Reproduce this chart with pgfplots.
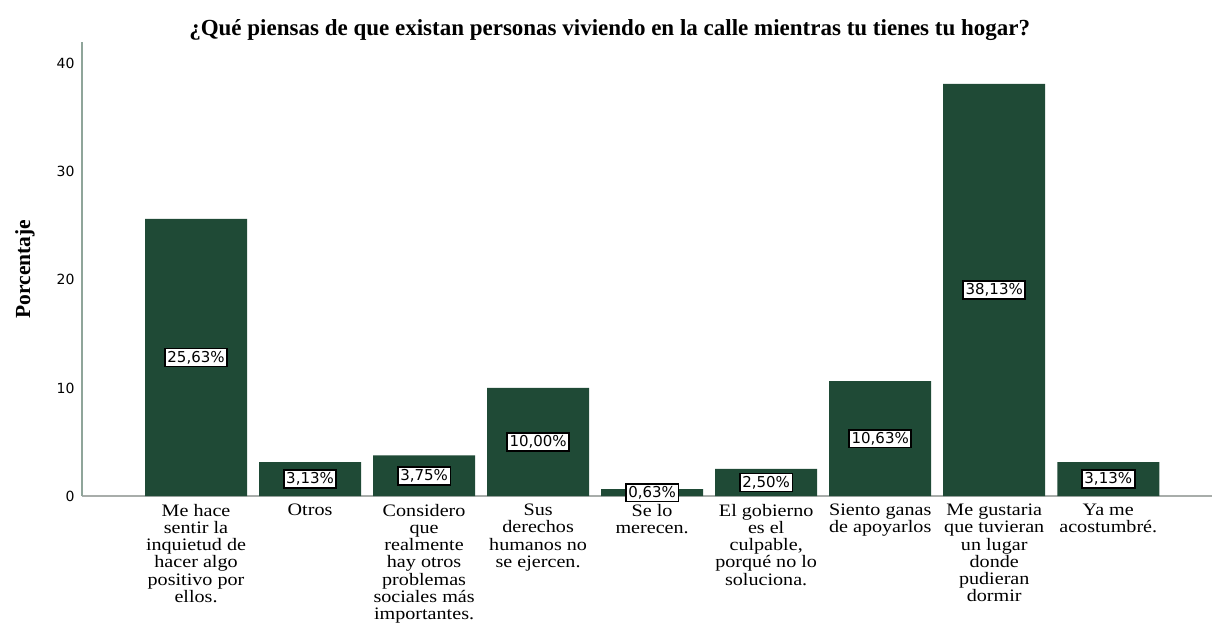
\documentclass[border=0pt]{standalone}
\usepackage{pgfplots}
\pgfplotsset{compat=1.18}
\usepackage{fontspec}
\setmainfont{Liberation Serif}
\newfontfamily\catfont[FakeStretch=1.15]{Liberation Serif}
\newfontfamily\tickfont{DejaVu Sans}
\definecolor{bargreen}{HTML}{1F4A36}
\definecolor{axisgreen}{HTML}{8FA59A}
\definecolor{axisgray}{HTML}{A8ADAA}
\begin{document}
\begin{tikzpicture}[x=1pt,y=1pt]
\useasboundingbox (-82,-137) rectangle (1130,496);
\begin{axis}[
  at={(0,0)}, anchor=south west,
  scale only axis, width=1130pt, height=454pt,
  xmin=-1, xmax=8.91, ymin=0, ymax=42,
  axis x line=bottom, axis y line=left,
  x axis line style={-, draw=axisgray, line width=1.5pt},
  y axis line style={-, draw=axisgreen, line width=1.5pt},
  major tick length=0pt,
  clip=false,
  ytick={0,10,20,30,40},
  xtick={0,1,2,3,4,5,6,7,8},
  xticklabels={{Me hace\\sentir la\\inquietud de\\hacer algo\\positivo por\\ellos.},
    {Otros},
    {Considero\\que\\realmente\\hay otros\\problemas\\sociales más\\importantes.},
    {Sus\\derechos\\humanos no\\se ejercen.},
    {Se lo\\merecen.},
    {El gobierno\\es el\\culpable,\\porqué no lo\\soluciona.},
    {Siento ganas\\de apoyarlos},
    {Me gustaria\\que tuvieran\\un lugar\\donde\\pudieran\\dormir},
    {Ya me\\acostumbré.}},
  /pgf/number format/assume math mode=true,
  yticklabel style={font=\tickfont\fontsize{14}{16}\selectfont, xshift=-4pt},
  xticklabel style={font=\catfont\fontsize{17.5}{17.2}\selectfont, align=center, anchor=north, inner sep=0pt, yshift=-8pt},
  title={¿Qué piensas de que existan personas viviendo en la calle mientras tu tienes tu hogar?},
  title style={at={(axis description cs:0.467,1.0132)}, anchor=center, font=\bfseries\fontsize{23}{25}\selectfont},
  ylabel={Porcentaje},
  ylabel style={at={(axis description cs:-0.0505,0.5)}, anchor=center, font=\bfseries\fontsize{21.5}{24}\selectfont},
  ybar, bar width=102pt,
  visualization depends on={rawy \as \rawy},
  nodes near coords={\pgfmathprintnumber[fixed,fixed zerofill,precision=2,use comma]{\pgfplotspointmeta}\%},
  every node near coord/.append style={font=\tickfont\fontsize{15}{17}\selectfont, fill=white, draw=black, line width=1.8pt, inner sep=2.5pt, anchor=center, yshift={-\rawy*5.40476pt}},
]
\addplot[fill=bargreen, draw=none] coordinates {
(0,25.63) (1,3.13) (2,3.75) (3,10.00) (4,0.63) (5,2.50) (6,10.63) (7,38.13) (8,3.13)};
\end{axis}
\end{tikzpicture}
\end{document}
